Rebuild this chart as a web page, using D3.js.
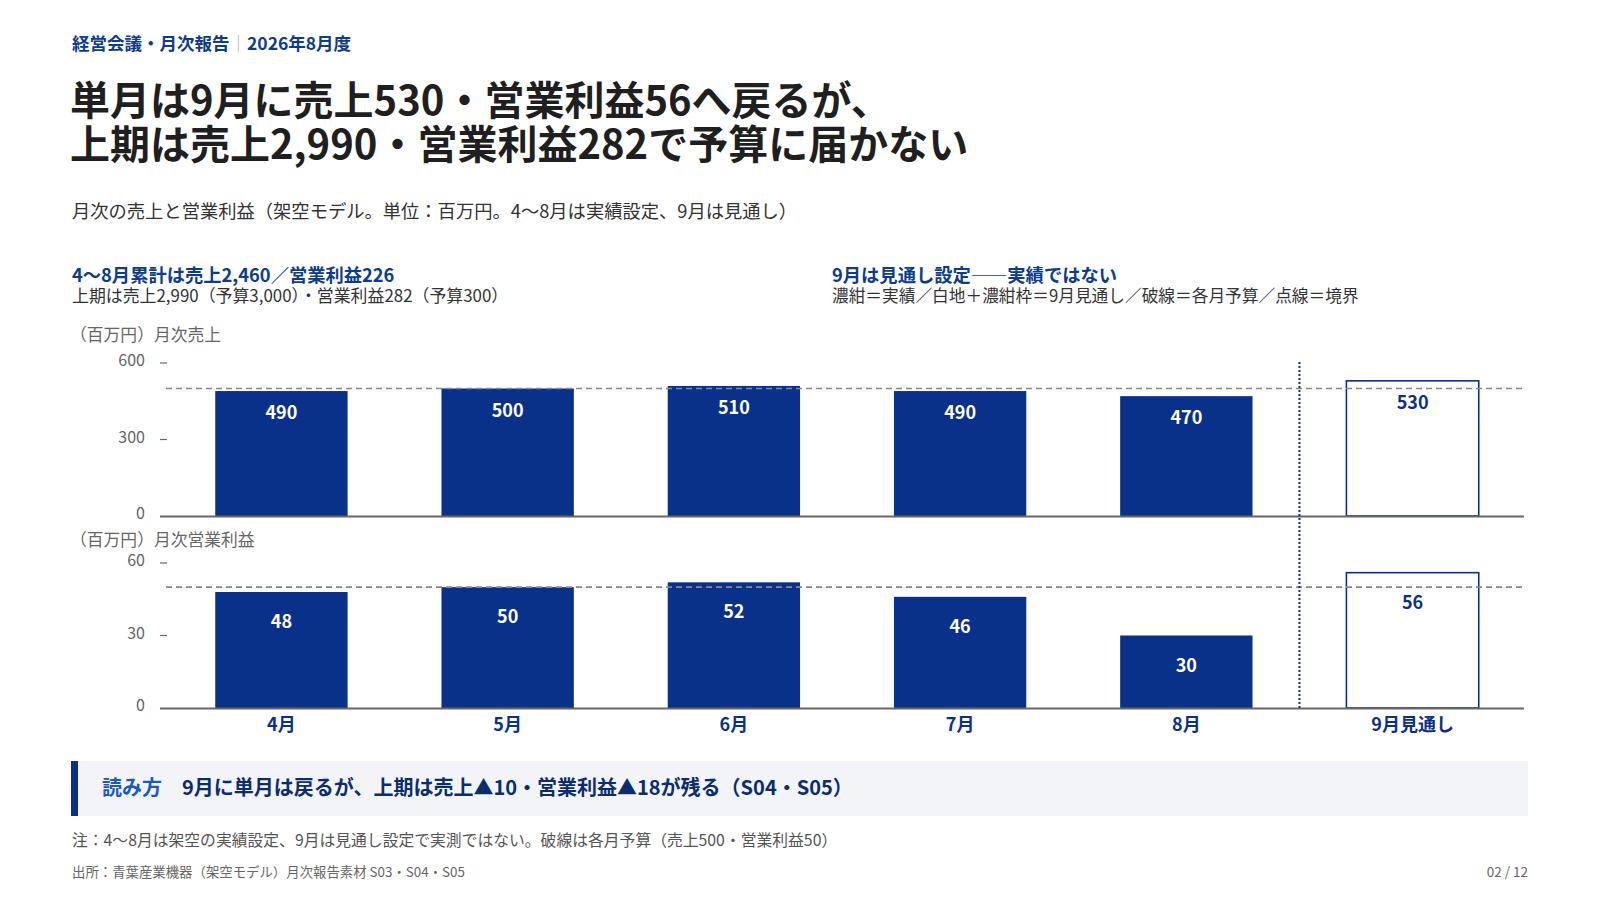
<!DOCTYPE html>
<html lang="ja"><head>
  <meta charset="utf-8">
  <title>月次の売上と営業利益</title>
  <script src="https://d3js.org/d3.v7.min.js"></script>
  <style>
    body { margin: 0; background: #fff; }
    svg text { font-family: "Noto Sans CJK JP", "Noto Sans", sans-serif; }
  </style>
</head>
<body>
<div id="my_dataviz"></div>

<script>

  // data
  const months = ["4月", "5月", "6月", "7月", "8月", "9月見通し"];
  const sales = [490, 500, 510, 490, 470, 530];
  const profit = [48, 50, 52, 46, 30, 56];
  const forecast = [false, false, false, false, false, true];
  const salesBudget = 500;
  const profitBudget = 50;
  const salesTicks = [0, 300, 600];
  const profitTicks = [0, 30, 60];

  const navy = "#0a318a";
  const width = 1600, height = 900;

  const svg = d3.select("#my_dataviz")
    .append("svg")
      .attr("width", width)
      .attr("height", height);

  // ---------------------------//
  //       HEADER TEXT          //
  // ---------------------------//

  const head = svg.append("text")
      .attr("x", 72).attr("y", 50)
      .style("font-size", "17.5px").style("font-weight", 700)
      .style("fill", "#0d3b8e");
  head.append("tspan").text("経営会議・月次報告");
  head.append("tspan").text("｜").style("fill", "#9aa6bd").style("font-weight", 300);
  head.append("tspan").text("2026年8月度");

  const titleLines = ["単月は9月に売上530・営業利益56へ戻るが、", "上期は売上2,990・営業利益282で予算に届かない"];
  svg.selectAll("title-line")
    .data(titleLines)
    .join("text")
      .attr("x", 70)
      .attr("y", (d, i) => 115 + i * 44)
      .style("font-size", "40px").style("font-weight", 700)
      .style("fill", "#1f1f1f")
      .text(d => d);

  svg.append("text")
      .attr("x", 72).attr("y", 218)
      .style("font-size", "18.3px").style("fill", "#333")
      .text("月次の売上と営業利益（架空モデル。単位：百万円。4〜8月は実績設定、9月は見通し）");

  // two small notes above the chart
  svg.append("text")
      .attr("x", 72).attr("y", 282)
      .style("font-size", "18.3px").style("font-weight", 700).style("fill", "#0d3b8e")
      .text("4〜8月累計は売上2,460／営業利益226");
  svg.append("text")
      .attr("x", 72).attr("y", 302)
      .style("font-size", "16.9px").style("fill", "#333")
      .text("上期は売上2,990（予算3,000）・営業利益282（予算300）");

  svg.append("text")
      .attr("x", 832).attr("y", 282)
      .style("font-size", "18.3px").style("font-weight", 700).style("fill", "#0d3b8e")
      .text("9月は見通し設定——実績ではない");
  svg.append("text")
      .attr("x", 832).attr("y", 302)
      .style("font-size", "16.7px").style("fill", "#333")
      .text("濃紺＝実績／白地＋濃紺枠＝9月見通し／破線＝各月予算／点線＝境界");

  // ---------------------------//
  //       AXIS  AND SCALE      //
  // ---------------------------//

  const x = d3.scaleBand()
    .domain(months)
    .range([170, 1524])
    .paddingInner(0.415)
    .paddingOuter(0.2);

  const ySales = d3.scaleLinear().domain([0, 600]).range([516, 363]);
  const yProfit = d3.scaleLinear().domain([0, 60]).range([708, 563]);

  const panels = [
    {y: ySales, vals: sales, ticks: salesTicks, budget: salesBudget, label: "（百万円）月次売上", labelY: 341, off: 22},
    {y: yProfit, vals: profit, ticks: profitTicks, budget: profitBudget, label: "（百万円）月次営業利益", labelY: 546, off: 30}
  ];

  panels.forEach(p => {
    const g = svg.append("g");

    // axis title
    g.append("text")
        .attr("x", 70).attr("y", p.labelY)
        .style("font-size", "16.8px").style("fill", "#666")
        .text(p.label);

    // ticks
    g.selectAll("tick-label")
      .data(p.ticks)
      .join("text")
        .attr("x", 145)
        .attr("y", d => p.y(d) + 3)
        .attr("text-anchor", "end")
        .style("font-size", "16px").style("fill", "#666")
        .text(d => d);
    g.selectAll("tick-mark")
      .data(p.ticks.filter(d => d > 0))
      .join("line")
        .attr("x1", 160).attr("x2", 167)
        .attr("y1", d => p.y(d)).attr("y2", d => p.y(d))
        .attr("stroke", "#666").attr("stroke-width", 1.2);

    // bars
    g.selectAll("bar")
      .data(p.vals)
      .join("rect")
        .attr("x", (d, i) => x(months[i]))
        .attr("y", d => p.y(d))
        .attr("width", x.bandwidth())
        .attr("height", d => p.y(0) - p.y(d))
        .attr("fill", (d, i) => forecast[i] ? "#fff" : navy)
        .attr("stroke", (d, i) => forecast[i] ? navy : "none")
        .attr("stroke-width", 1.6);

    // budget line
    g.append("line")
        .attr("x1", 166).attr("x2", 1524)
        .attr("y1", p.y(p.budget)).attr("y2", p.y(p.budget))
        .attr("stroke", "#888").attr("stroke-width", 1.6)
        .style("stroke-dasharray", "6,4");

    // baseline
    g.append("line")
        .attr("x1", 160).attr("x2", 1524)
        .attr("y1", p.y(0) + 0.5).attr("y2", p.y(0) + 0.5)
        .attr("stroke", "#666").attr("stroke-width", 1.8);

    // value labels
    g.selectAll("bar-label")
      .data(p.vals)
      .join("text")
        .attr("x", (d, i) => x(months[i]) + x.bandwidth() / 2)
        .attr("y", d => p.y(d) + p.off + 6)
        .attr("text-anchor", "middle")
        .style("font-size", "18px").style("font-weight", 700)
        .style("fill", (d, i) => forecast[i] ? navy : "#fff")
        .text(d => d);
  });

  // boundary between actual and forecast
  const bx = (x(months[4]) + x.bandwidth() + x(months[5])) / 2;
  svg.append("line")
      .attr("x1", bx).attr("x2", bx)
      .attr("y1", 362).attr("y2", yProfit(0))
      .attr("stroke", navy).attr("stroke-width", 2)
      .style("stroke-dasharray", "2,2");

  // month labels
  svg.selectAll("month-label")
    .data(months)
    .join("text")
      .attr("x", d => x(d) + x.bandwidth() / 2)
      .attr("y", 731)
      .attr("text-anchor", "middle")
      .style("font-size", "18px").style("font-weight", 700).style("fill", navy)
      .text(d => d);

  // ---------------------------//
  //       CALLOUT + NOTES      //
  // ---------------------------//

  svg.append("rect")
      .attr("x", 71).attr("y", 761)
      .attr("width", 1457).attr("height", 55)
      .attr("fill", "#f2f4f7");
  svg.append("rect")
      .attr("x", 71).attr("y", 761)
      .attr("width", 7).attr("height", 55)
      .attr("fill", navy);

  svg.append("text")
      .attr("x", 102).attr("y", 795)
      .style("font-size", "20px").style("font-weight", 700).style("fill", "#1d58c0")
      .text("読み方");
  svg.append("text")
      .attr("x", 182).attr("y", 795)
      .style("font-size", "20px").style("font-weight", 700).style("fill", "#0b2d6e")
      .text("9月に単月は戻るが、上期は売上▲10・営業利益▲18が残る（S04・S05）");

  svg.append("text")
      .attr("x", 72).attr("y", 846)
      .style("font-size", "15.8px").style("fill", "#555")
      .text("注：4〜8月は架空の実績設定、9月は見通し設定で実測ではない。破線は各月予算（売上500・営業利益50）");

  svg.append("text")
      .attr("x", 72).attr("y", 877)
      .style("font-size", "13.4px").style("fill", "#666")
      .text("出所：青葉産業機器（架空モデル）月次報告素材 S03・S04・S05");

  svg.append("text")
      .attr("x", 1528).attr("y", 877)
      .attr("text-anchor", "end")
      .style("font-size", "13.5px").style("fill", "#666")
      .text("02 / 12");

</script>
</body>
</html>
